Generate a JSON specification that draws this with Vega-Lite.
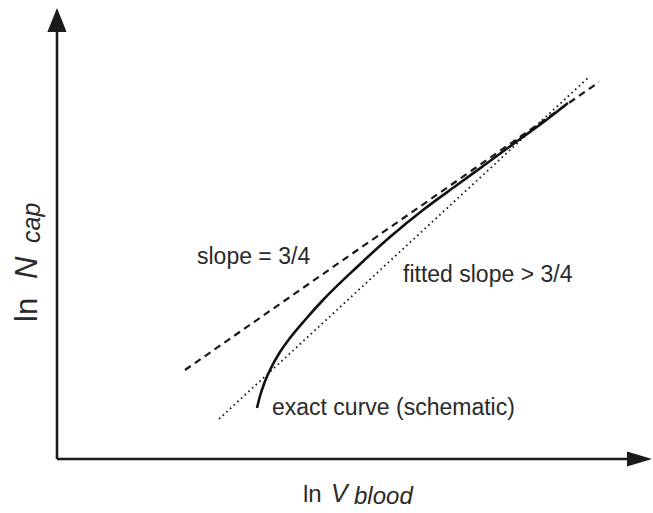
{
  "$schema": "https://vega.github.io/schema/vega-lite/v6.json",
  "width": 653,
  "height": 513,
  "padding": 0,
  "autosize": {"type": "fit", "contains": "padding"},
  "background": "white",
  "config": {"view": {"stroke": null}},
  "datasets": {
    "axes": [
      {"u": 0, "v": 0, "u2": 0, "v2": 42.9},
      {"u": 0, "v": 0, "u2": 57.3, "v2": 0}
    ],
    "heads": [
      {"u": 0, "v": 43.9, "dir": "up"},
      {"u": 58.25, "v": 0, "dir": "right"}
    ],
    "curves": [
      {"series": "slope34", "i": 0, "u": 12.8, "v": 8.9},
      {"series": "slope34", "i": 1, "u": 54.2, "v": 37.7},
      {"series": "fitted", "i": 0, "u": 16.2, "v": 4.0},
      {"series": "fitted", "i": 1, "u": 53.2, "v": 38.2},
      {"series": "exact", "i": 0, "u": 20.0, "v": 5.1},
      {"series": "exact", "i": 1, "u": 20.3, "v": 6.3},
      {"series": "exact", "i": 2, "u": 20.7, "v": 7.5},
      {"series": "exact", "i": 3, "u": 21.3, "v": 8.9},
      {"series": "exact", "i": 4, "u": 22.3, "v": 10.7},
      {"series": "exact", "i": 5, "u": 23.3, "v": 12.1},
      {"series": "exact", "i": 6, "u": 24.8, "v": 13.9},
      {"series": "exact", "i": 7, "u": 26.6, "v": 15.9},
      {"series": "exact", "i": 8, "u": 30.0, "v": 19.2},
      {"series": "exact", "i": 9, "u": 33.3, "v": 22.2},
      {"series": "exact", "i": 10, "u": 36.6, "v": 24.9},
      {"series": "exact", "i": 11, "u": 40.0, "v": 27.4},
      {"series": "exact", "i": 12, "u": 43.3, "v": 29.8},
      {"series": "exact", "i": 13, "u": 46.3, "v": 32.0},
      {"series": "exact", "i": 14, "u": 48.8, "v": 33.8},
      {"series": "exact", "i": 15, "u": 51.1, "v": 35.6}
    ],
    "labels": [
      {"kind": "note", "u": 14.0, "v": 19.5, "text": "slope = 3/4"},
      {"kind": "note", "u": 34.6, "v": 17.7, "text": "fitted slope > 3/4"},
      {"kind": "note", "u": 21.5, "v": 4.4, "text": "exact curve (schematic)"},
      {"kind": "xreg", "u": 24.6, "v": -4.3, "text": "ln"},
      {"kind": "xit", "u": 27.4, "v": -4.3, "text": "V"},
      {"kind": "xsub", "u": 29.7, "v": -4.5, "text": "blood"},
      {"kind": "yreg", "u": -2.0, "v": 13.7, "text": "ln"},
      {"kind": "yit", "u": -2.0, "v": 18.0, "text": "N"},
      {"kind": "ysub", "u": -1.7, "v": 21.6, "text": "cap"}
    ]
  },
  "encoding": {
    "x": {"field": "u", "type": "quantitative", "scale": {"domain": [-5.7, 59.6], "nice": false, "zero": false}, "axis": null},
    "y": {"field": "v", "type": "quantitative", "scale": {"domain": [-5.4, 45.9], "nice": false, "zero": false}, "axis": null}
  },
  "layer": [
    {
      "data": {"name": "axes"},
      "mark": {"type": "rule", "stroke": "#1a1a1a", "strokeWidth": 2.6},
      "encoding": {"x2": {"field": "u2"}, "y2": {"field": "v2"}}
    },
    {
      "data": {"name": "heads"},
      "transform": [{"filter": "datum.dir === 'up'"}],
      "mark": {"type": "point", "filled": true, "color": "#1a1a1a", "opacity": 1, "size": 576, "shape": "M0,-1L0.8,1L-0.8,1Z"},
      "encoding": {}
    },
    {
      "data": {"name": "heads"},
      "transform": [{"filter": "datum.dir === 'right'"}],
      "mark": {"type": "point", "filled": true, "color": "#1a1a1a", "opacity": 1, "size": 625, "shape": "M1,0L-1,0.6L-1,-0.6Z"},
      "encoding": {}
    },
    {
      "data": {"name": "curves"},
      "transform": [{"filter": "datum.series === 'slope34'"}],
      "mark": {"type": "line", "stroke": "#1a1a1a", "strokeWidth": 2.2, "strokeDash": [7, 5]},
      "encoding": {"order": {"field": "i", "type": "quantitative"}}
    },
    {
      "data": {"name": "curves"},
      "transform": [{"filter": "datum.series === 'fitted'"}],
      "mark": {"type": "line", "stroke": "#1a1a1a", "strokeWidth": 1.8, "strokeDash": [1.6, 3.4]},
      "encoding": {"order": {"field": "i", "type": "quantitative"}}
    },
    {
      "data": {"name": "curves"},
      "transform": [{"filter": "datum.series === 'exact'"}],
      "mark": {"type": "line", "stroke": "#111", "strokeWidth": 2.6, "interpolate": "monotone"},
      "encoding": {"order": {"field": "i", "type": "quantitative"}}
    },
    {
      "data": {"name": "labels"},
      "transform": [{"filter": "datum.kind === 'note'"}],
      "mark": {"type": "text", "align": "left", "baseline": "alphabetic", "font": "Liberation Sans", "fontSize": 23, "color": "#2a2a2a"},
      "encoding": {"text": {"field": "text"}}
    },
    {
      "data": {"name": "labels"},
      "transform": [{"filter": "datum.kind === 'xreg'"}],
      "mark": {"type": "text", "align": "left", "baseline": "alphabetic", "font": "Liberation Sans", "fontSize": 24, "color": "#2a2a2a"},
      "encoding": {"text": {"field": "text"}}
    },
    {
      "data": {"name": "labels"},
      "transform": [{"filter": "datum.kind === 'xit'"}],
      "mark": {"type": "text", "align": "left", "baseline": "alphabetic", "font": "Liberation Sans", "fontStyle": "italic", "fontSize": 25, "color": "#2a2a2a"},
      "encoding": {"text": {"field": "text"}}
    },
    {
      "data": {"name": "labels"},
      "transform": [{"filter": "datum.kind === 'xsub'"}],
      "mark": {"type": "text", "align": "left", "baseline": "alphabetic", "font": "Liberation Sans", "fontStyle": "italic", "fontSize": 24, "color": "#2a2a2a"},
      "encoding": {"text": {"field": "text"}}
    },
    {
      "data": {"name": "labels"},
      "transform": [{"filter": "datum.kind === 'yreg'"}],
      "mark": {"type": "text", "align": "left", "baseline": "alphabetic", "angle": 270, "font": "Liberation Sans", "fontSize": 31, "color": "#2a2a2a"},
      "encoding": {"text": {"field": "text"}}
    },
    {
      "data": {"name": "labels"},
      "transform": [{"filter": "datum.kind === 'yit'"}],
      "mark": {"type": "text", "align": "left", "baseline": "alphabetic", "angle": 270, "font": "Liberation Sans", "fontStyle": "italic", "fontSize": 31, "color": "#2a2a2a"},
      "encoding": {"text": {"field": "text"}}
    },
    {
      "data": {"name": "labels"},
      "transform": [{"filter": "datum.kind === 'ysub'"}],
      "mark": {"type": "text", "align": "left", "baseline": "alphabetic", "angle": 270, "font": "Liberation Sans", "fontStyle": "italic", "fontSize": 25, "color": "#2a2a2a"},
      "encoding": {"text": {"field": "text"}}
    }
  ]
}
